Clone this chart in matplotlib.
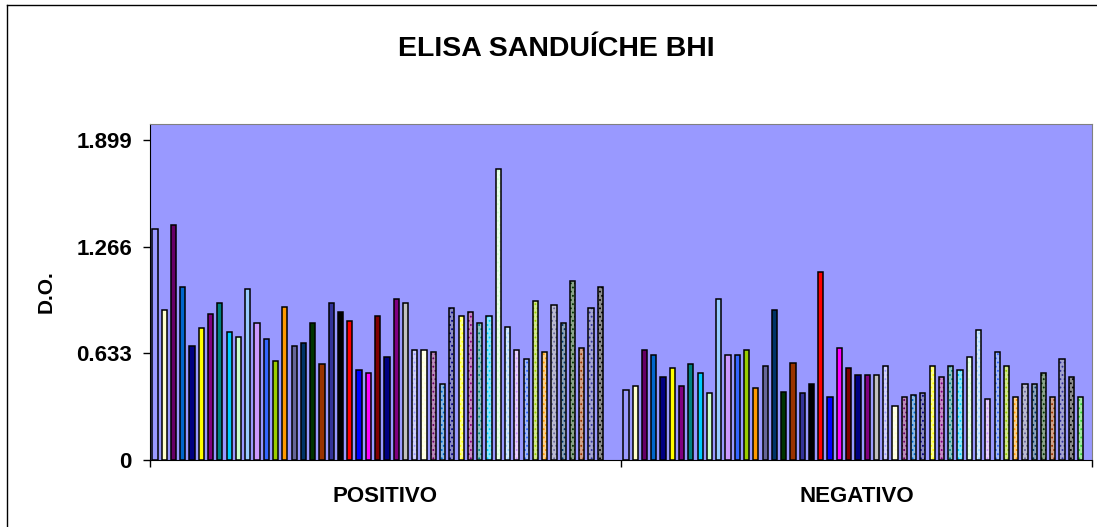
import numpy as np
import matplotlib
matplotlib.use("Agg")
import matplotlib.pyplot as plt
from matplotlib.colors import to_rgb

plt.rcParams['font.family'] = ['Liberation Sans', 'DejaVu Sans']
plt.rcParams['hatch.linewidth'] = 0.8

# Data
categories = ["POSITIVO", "NEGATIVO"]
positivo = [1.373, 0.888, 1.395, 1.029, 0.675, 0.781, 0.868, 0.932, 0.762, 0.728,
            1.017, 0.815, 0.718, 0.589, 0.910, 0.675, 0.696, 0.815, 0.568, 0.932,
            0.878, 0.825, 0.536, 0.514, 0.857, 0.611, 0.955, 0.932, 0.653, 0.653,
            0.643, 0.449, 0.900, 0.857, 0.878, 0.815, 0.857, 1.727, 0.791, 0.653,
            0.599, 0.944, 0.643, 0.922, 0.815, 1.060, 0.665, 0.900, 1.029, None]
negativo = [0.417, 0.439, 0.653, 0.621, 0.493, 0.546, 0.439, 0.568, 0.514, 0.396,
            0.954, 0.621, 0.621, 0.653, 0.429, 0.556, 0.888, 0.405, 0.578, 0.396,
            0.449, 1.114, 0.376, 0.665, 0.546, 0.504, 0.504, 0.504, 0.556, 0.322,
            0.376, 0.386, 0.396, 0.556, 0.493, 0.556, 0.536, 0.611, 0.772, 0.364,
            0.643, 0.556, 0.376, 0.449, 0.449, 0.514, 0.376, 0.599, 0.493, 0.376]
y_ticks = [0, 0.633, 1.266, 1.899]
y_labels = ["0", "0.633", "1.266", "1.899"]

# Excel-like series colours; series 29-50 use pattern fills
solid_colors = ["#9999FF", "#FFFFCC", "#660066", "#0066CC", "#000080", "#FFFF00",
                "#800080", "#008080", "#00CCFF", "#CCFFCC", "#99CCFF", "#CC99FF",
                "#3366FF", "#99CC00", "#FF9900", "#666699", "#003366", "#003300",
                "#993300", "#333399", "#000000", "#FF0000", "#0000FF", "#FF00FF",
                "#800000", "#000080", "#800080", "#C0C0C0"]
pattern_colors = solid_colors[:21] + ["#33CC33"]

fig = plt.figure(figsize=(10.97, 5.27), dpi=100)
ax = fig.add_axes([150 / 1097, 1 - 460 / 527, 942 / 1097, 336 / 527])
ax.set_facecolor("#9999FF")

slot = 9.28 / 471
offset = 2.3 / 471
width = 5.2 / 471

for k, values in enumerate([positivo, negativo]):
    for i, v in enumerate(values):
        if v is None:
            continue
        left = k + offset + i * slot
        if i < len(solid_colors):
            ax.bar(left, v, width=width, align='edge', color=solid_colors[i],
                   edgecolor="black", linewidth=1.1, zorder=3)
        else:
            base = np.array(to_rgb(pattern_colors[i - len(solid_colors)]))
            light = 0.45 * base + 0.55
            ax.bar(left, v, width=width, align='edge', color=light,
                   edgecolor=base, linewidth=0, hatch='....', zorder=3)
            ax.bar(left, v, width=width, align='edge', fill=False,
                   edgecolor="black", linewidth=1.1, zorder=4)

ax.set_xlim(0, 2)
ax.set_ylim(0, 1.994)

ax.set_yticks(y_ticks)
ax.set_yticklabels(y_labels, fontsize=16, fontweight='bold')
ax.tick_params(axis='y', direction='out', length=5, width=1, pad=8)

ax.set_xticks([0.5, 1.5])
ax.set_xticklabels(categories, fontsize=16, fontweight='bold')
ax.set_xticks([0, 1, 2], minor=True)
ax.tick_params(axis='x', which='major', length=0, pad=19)
ax.tick_params(axis='x', which='minor', direction='out', length=5, width=1)

ax.spines['top'].set_color("#808080")
ax.spines['right'].set_color("#808080")
ax.spines['left'].set_color("black")
ax.spines['bottom'].set_color("black")

ax.set_ylabel("D.O.", fontsize=15, fontweight='bold')
ax.yaxis.set_label_coords(-94 / 942, 0.5)

fig.text(556 / 1097, 1 - 49 / 527, "ELISA SANDUÍCHE BHI", ha='center', va='center',
         fontsize=20.5, fontweight='bold')

# chart border (left and top edges are visible in the picture)
fig.add_artist(plt.Line2D([7 / 1097, 7 / 1097], [0, 1 - 5 / 527],
                          transform=fig.transFigure, color="black", linewidth=1))
fig.add_artist(plt.Line2D([7 / 1097, 1], [1 - 5 / 527, 1 - 5 / 527],
                          transform=fig.transFigure, color="black", linewidth=1))

fig.savefig("out.png", dpi=100)
